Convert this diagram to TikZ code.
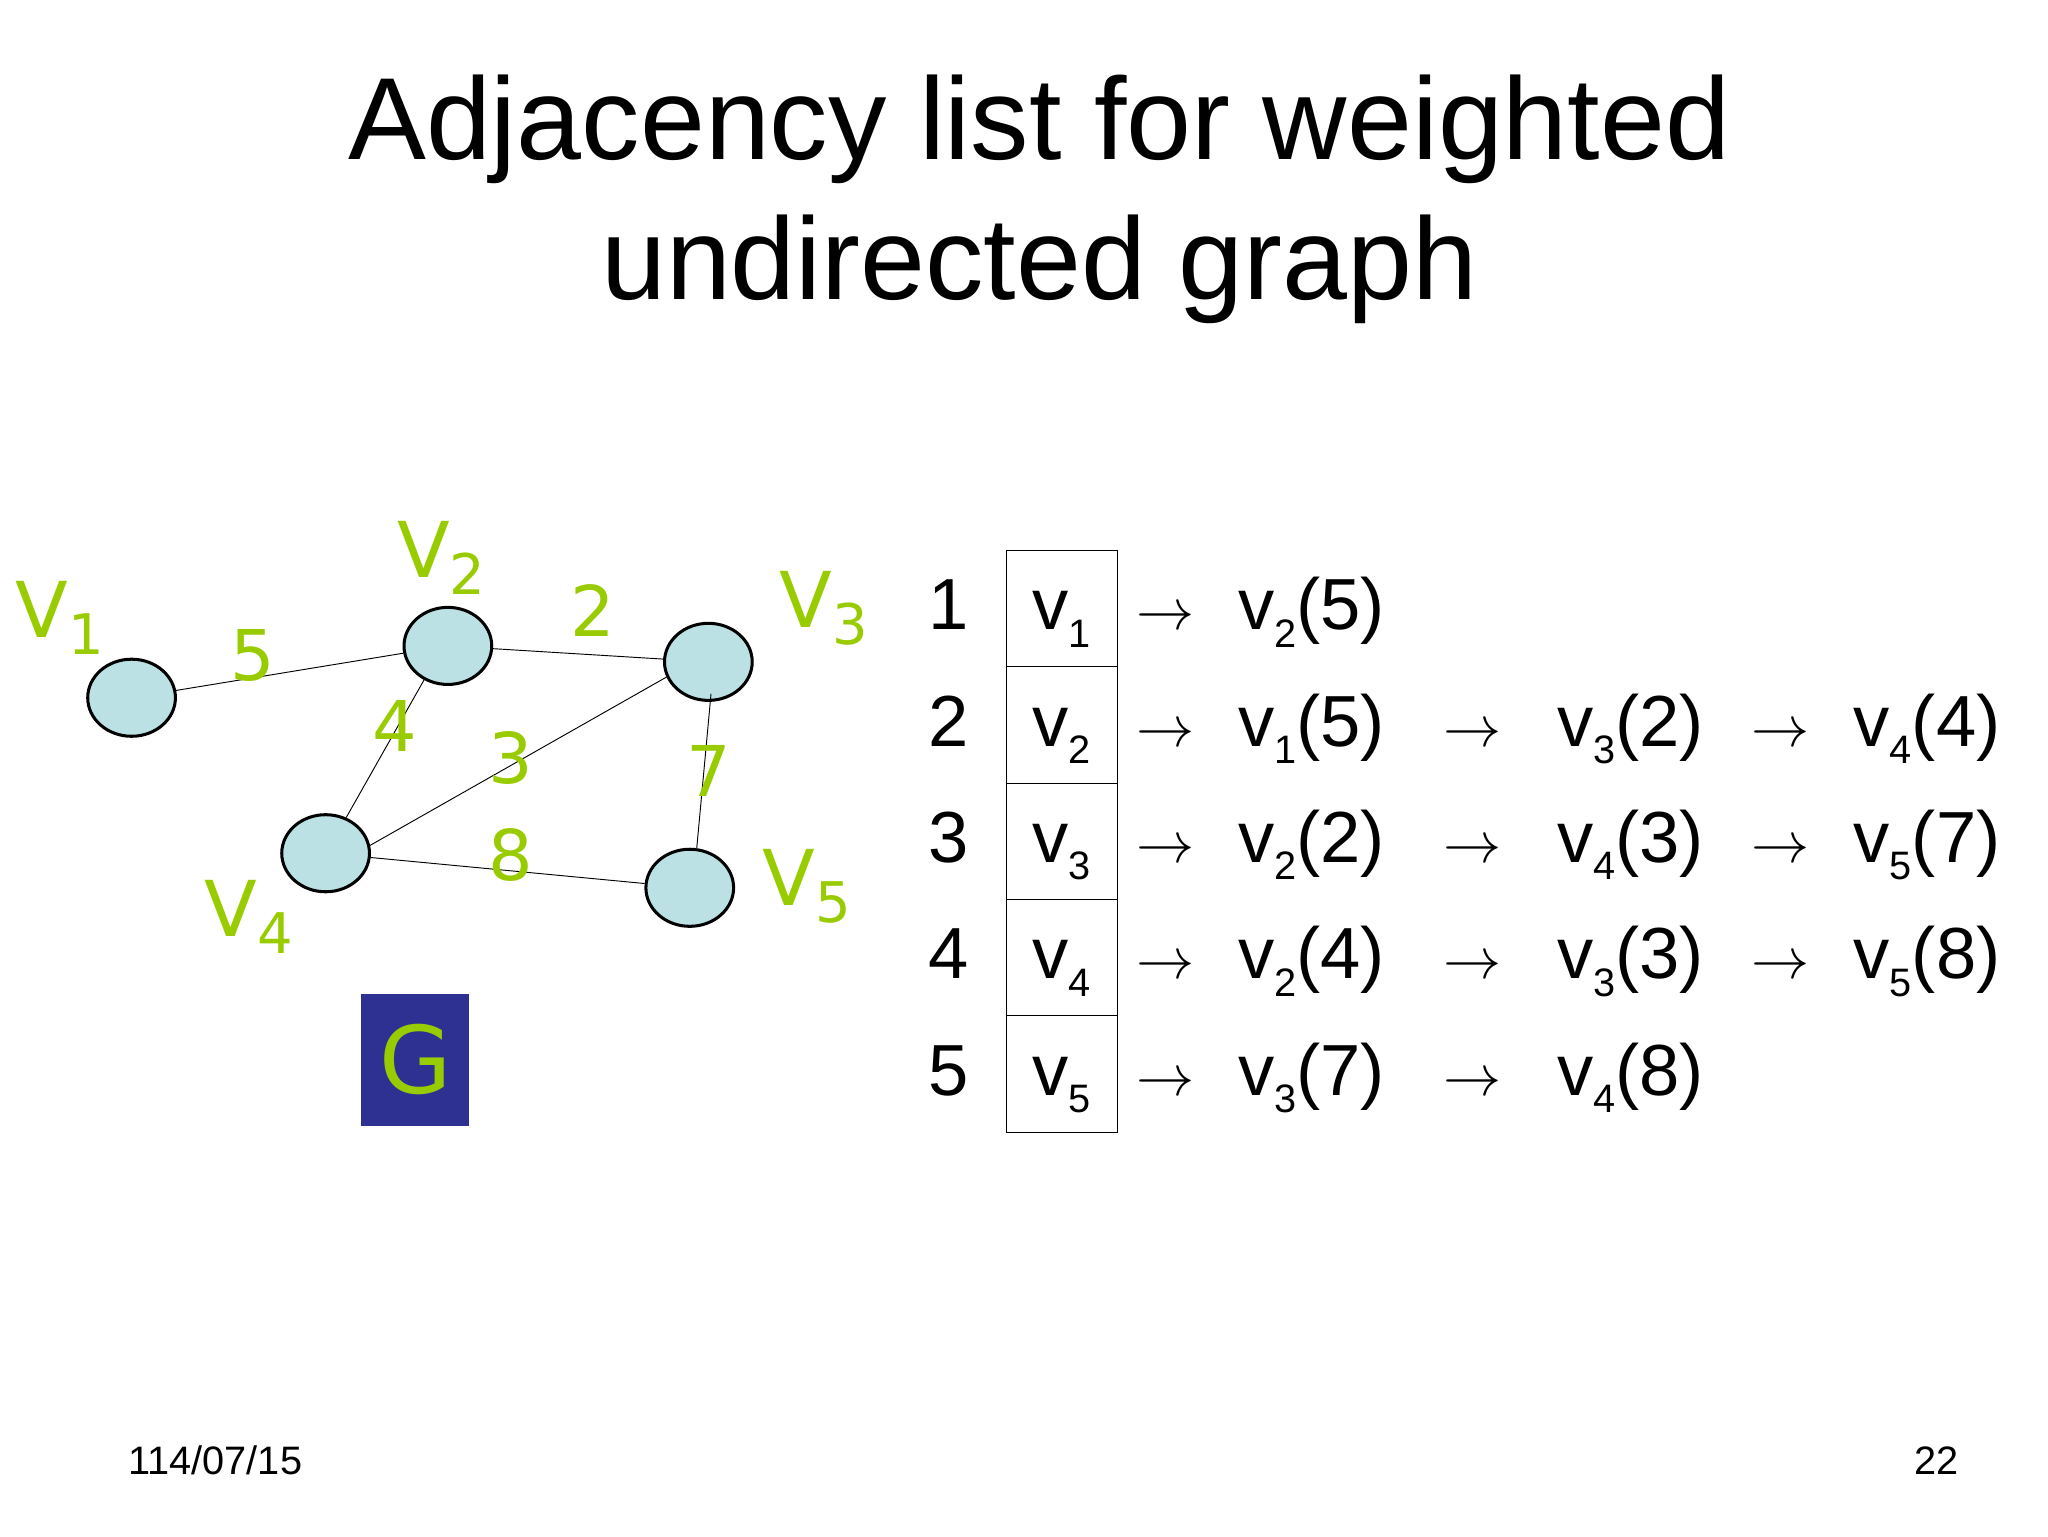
\documentclass[tikz,border=0pt]{standalone}
\usepackage{fontspec}
\setmainfont{Liberation Sans}
\newfontfamily\gfont{DejaVu Sans}
\usetikzlibrary{shapes.geometric}
\definecolor{lgreen}{HTML}{99CC00}
\definecolor{nfill}{HTML}{BCE1E4}
\definecolor{gblue}{HTML}{2E3192}
\newcommand{\vsub}[1]{v\raisebox{-0.45ex}{\fontsize{17}{17}\selectfont #1}}
\newcommand{\vent}[2]{\vsub{#1}(#2)}
\newcommand{\Vlab}[1]{V\raisebox{-0.4ex}{\fontsize{24}{24}\selectfont #1}}
\begin{document}
\begin{tikzpicture}[x=0.02cm,y=-0.02cm,
  gl/.style={text=lgreen,font=\gfont\fontsize{33}{33}\selectfont,inner sep=0pt},
  wl/.style={text=lgreen,font=\gfont\fontsize{30}{30}\selectfont,inner sep=0pt},
  tx/.style={font=\fontsize{31}{31}\selectfont,inner sep=0pt,anchor=base},
  cell/.style={draw,minimum width=84*0.02cm,minimum height=87.5*0.02cm,inner sep=0pt}]
\useasboundingbox (0,0) rectangle (1541,1156);
\node[font=\fontsize{50}{60}\selectfont,align=center] (title) at (782,150) {Adjacency list for weighted\\undirected graph};
% graph
\foreach \n/\x/\y in {a/99/525,b/337/486,c/533/498,d/245/642,e/519/668}
  \node[draw,ellipse,line width=1.3pt,fill=nfill,minimum width=66*0.02cm,minimum height=58*0.02cm] (\n) at (\x,\y) {};
\draw (a) -- (b);
\draw (b) -- (c);
\draw (b.235) -- (d.60);
\draw (d.10) -- (c.200);
\draw (d) -- (e);
\coordinate (c5) at (535,522);
\draw (c5) -- (e.80);
\node[gl] (l1) at (45,465) {\Vlab{1}};
\node[gl] (l2) at (332,420) {\Vlab{2}};
\node[gl] (l3) at (620,458) {\Vlab{3}};
\node[gl] (l4) at (187,690) {\Vlab{4}};
\node[gl] (l5) at (607,667) {\Vlab{5}};
\node[wl] (w5) at (190,493) {5};
\node[wl] (w2) at (446,459) {2};
\node[wl] (w4) at (297,546) {4};
\node[wl] (w3) at (384,570) {3};
\node[wl] (w7) at (533,580) {7};
\node[wl] (w8) at (384,643) {8};
\node[fill=gblue,minimum width=81*0.02cm,minimum height=99*0.02cm,inner sep=0pt,text=lgreen,font=\gfont\fontsize{40}{40}\selectfont] (G) at (312.5,797.5) {G};
% table
\foreach \i/\y in {1/458,2/545.5,3/633,4/720.5,5/808}{
  \node[cell] (c\i) at (799,\y) {};
  \node[tx] (n\i) at (714,\y+16) {\i};
  \node[tx] (v\i) at (799,\y+16) {\vsub{\i}};
  \node[tx] (a\i) at (877,\y+16) {$\rightarrow$};
}
\node[tx] (e11) at (987,474) {\vent{2}{5}};
\node[tx] (e21) at (987,561.5) {\vent{1}{5}};
\node[tx] (b21) at (1108,561.5) {$\rightarrow$};
\node[tx] (e22) at (1227,561.5) {\vent{3}{2}};
\node[tx] (b22) at (1340,561.5) {$\rightarrow$};
\node[tx] (e23) at (1450,561.5) {\vent{4}{4}};
\node[tx] (e31) at (987,649) {\vent{2}{2}};
\node[tx] (b31) at (1108,649) {$\rightarrow$};
\node[tx] (e32) at (1227,649) {\vent{4}{3}};
\node[tx] (b32) at (1340,649) {$\rightarrow$};
\node[tx] (e33) at (1450,649) {\vent{5}{7}};
\node[tx] (e41) at (987,736.5) {\vent{2}{4}};
\node[tx] (b41) at (1108,736.5) {$\rightarrow$};
\node[tx] (e42) at (1227,736.5) {\vent{3}{3}};
\node[tx] (b42) at (1340,736.5) {$\rightarrow$};
\node[tx] (e43) at (1450,736.5) {\vent{5}{8}};
\node[tx] (e51) at (987,824) {\vent{3}{7}};
\node[tx] (b51) at (1108,824) {$\rightarrow$};
\node[tx] (e52) at (1227,824) {\vent{4}{8}};
\node[font=\fontsize{17}{17}\selectfont] (date) at (162,1099) {114/07/15};
\node[font=\fontsize{17}{17}\selectfont] (pg) at (1457,1099) {22};
\end{tikzpicture}
\end{document}
